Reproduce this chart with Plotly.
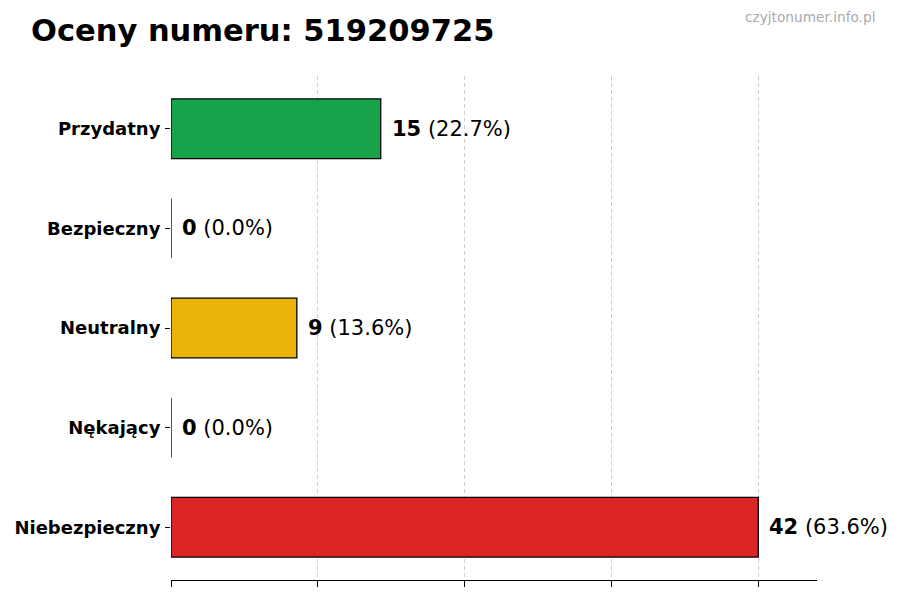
import plotly.graph_objects as go

# data
categories = ["Przydatny", "Bezpieczny", "Neutralny", "Nękający", "Niebezpieczny"]
counts = [15, 0, 9, 0, 42]
colors = ["#16a34a", "#6b7280", "#eab308", "#9333ea", "#dc2626"]
phone = "519209725"

total = sum(counts)
xmax = max(counts)

# page body has an 8px margin, so the figure is placed at (8, 8)
L, R, T, B = 163, 91, 68, 28
plot_w = 900 - L - R
plot_h = 600 - T - B

fig = go.Figure()
fig.add_trace(go.Bar(
    x=counts,
    y=categories,
    orientation="h",
    width=0.6,
    marker=dict(color=colors, line=dict(color="black", width=1.3)),
    hoverinfo="skip",
    showlegend=False,
))

# value labels
for cat, val in zip(categories, counts):
    pct = 100 * val / total if total else 0
    fig.add_annotation(
        x=val, y=cat, xref="x", yref="y",
        text=f"<b>{val}</b> ({pct:.1f}%)",
        showarrow=False, xanchor="left", yanchor="middle", xshift=9,
        font=dict(family="DejaVu Sans", size=21, color="black"),
    )

# watermark
fig.add_annotation(
    x=(869 - L) / plot_w, y=1 + (T - 9) / plot_h, xref="paper", yref="paper",
    text="czyjtonumer.info.pl", showarrow=False,
    xanchor="right", yanchor="middle",
    font=dict(family="DejaVu Sans", size=13.7, color="#aaaaaa"),
)

fig.update_layout(
    width=900, height=600,
    paper_bgcolor="white", plot_bgcolor="white",
    margin=dict(l=L, r=R, t=T, b=B, autoexpand=False),
    title=dict(
        text=f"<b>Oceny numeru: {phone}</b>",
        x=23 / 900, xref="container", xanchor="left",
        y=1 - 22 / 600, yref="container", yanchor="middle",
        font=dict(family="DejaVu Sans", size=30.5, color="black"),
    ),
    xaxis=dict(
        range=[0, xmax * 1.1],
        tickvals=[xmax * i / 4 for i in range(5)],
        showticklabels=False,
        ticks="outside", ticklen=6, tickcolor="black",
        showgrid=True, gridcolor="#d0d0d0", griddash="4px,3px", gridwidth=1,
        showline=True, linecolor="black", linewidth=1.2,
        zeroline=False, layer="above traces",
        fixedrange=True, automargin=False,
    ),
    yaxis=dict(
        range=[4.53, -0.53],
        ticks="outside", ticklen=5, tickcolor="black",
        showline=False, showgrid=False, zeroline=False,
        tickfont=dict(family="DejaVu Sans", size=18, color="black"),
        ticklabelstandoff=1,
        fixedrange=True, automargin=False,
    ),
    font=dict(family="DejaVu Sans"),
)
fig.update_yaxes(ticktext=[f"<b>{c}</b>" for c in categories], tickvals=categories)

fig.write_html("out.html")
